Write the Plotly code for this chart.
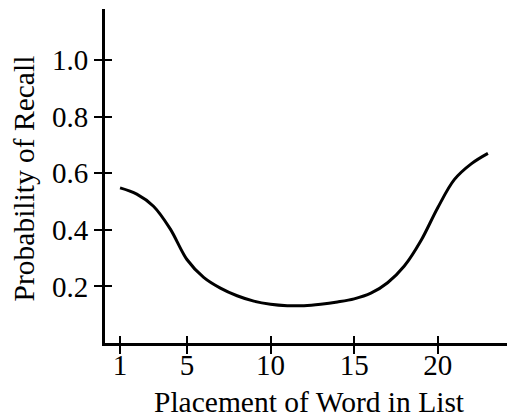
import plotly.graph_objects as go

positions = [1, 2, 3, 4, 5, 6, 7, 8, 9, 10, 11, 12, 13, 14, 15, 16, 17, 18, 19, 20, 21, 22, 23]
recall = [0.548, 0.526, 0.483, 0.403, 0.295, 0.232, 0.194, 0.167, 0.148, 0.137, 0.132, 0.132,
          0.137, 0.145, 0.156, 0.176, 0.213, 0.272, 0.362, 0.478, 0.578, 0.633, 0.670]
x_ticks = [1, 5, 10, 15, 20]
y_ticks = [0.2, 0.4, 0.6, 0.8, 1.0]
y_tick_text = ["0.2", "0.4", "0.6", "0.8", "1.0"]
x_title = "Placement of Word in List"
y_title = "Probability of Recall"

FONT = "Liberation Serif"
xr = [0.10, 24.50]
yr = [0, 1.18]

fig = go.Figure()
fig.add_trace(go.Scatter(x=positions, y=recall, mode="lines",
                         line=dict(color="black", width=3, shape="spline", smoothing=1.0),
                         showlegend=False, hoverinfo="skip"))

common = dict(showgrid=False, zeroline=False, automargin=False)
fig.update_layout(
    width=507, height=410,
    margin=dict(l=97, r=2, t=1, b=75),
    paper_bgcolor="white", plot_bgcolor="white",
    font=dict(family=FONT, color="black", size=29),
    xaxis=dict(range=xr, showline=True, linecolor="black",
               linewidth=3, ticks="outside", ticklen=8, tickwidth=1.5, tickcolor="black",
               tickvals=x_ticks, ticktext=[str(v) for v in x_ticks],
               ticklabelstandoff=-14,
               tickfont=dict(family=FONT, size=29), **common),
    yaxis=dict(range=yr, showline=True, linecolor="black",
               linewidth=3, ticks="outside", ticklen=8, tickwidth=1.5, tickcolor="black",
               tickvals=y_ticks, ticktext=y_tick_text,
               tickfont=dict(family=FONT, size=29), **common),
    xaxis2=dict(range=xr, overlaying="x", side="bottom",
                ticks="inside", ticklen=7, tickwidth=1.5, tickcolor="black",
                tickvals=x_ticks, showticklabels=False, showline=False, **common),
    yaxis2=dict(range=yr, overlaying="y", side="left",
                ticks="inside", ticklen=7, tickwidth=1.5, tickcolor="black",
                tickvals=y_ticks, showticklabels=False, showline=False, **common),
    annotations=[
        dict(text=x_title, xref="paper", yref="paper", x=0.5, y=-0.2306,
             xanchor="center", yanchor="bottom", showarrow=False,
             font=dict(family=FONT, size=29.5, color="black")),
        dict(text=y_title, xref="paper", yref="paper", x=-0.1975, y=0.494,
             xanchor="center", yanchor="middle", textangle=-90, showarrow=False,
             font=dict(family=FONT, size=29.5, color="black")),
    ],
)
fig.add_trace(go.Scatter(x=[None], y=[None], xaxis="x2", yaxis="y2", showlegend=False,
                         hoverinfo="skip"))

fig.write_html("out.html")
